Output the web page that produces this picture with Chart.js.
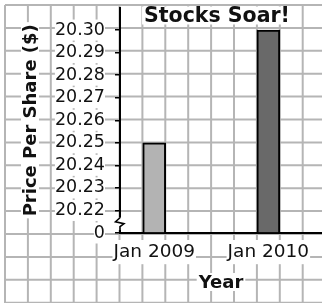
<!DOCTYPE html>
<html>
<head>
<meta charset="utf-8">
<script src="https://cdn.jsdelivr.net/npm/chart.js@4/dist/chart.umd.min.js"></script>
<style>
  body { margin: 0; background: #fff; }
  #wrap { width: 322px; height: 303px; }
</style>
</head>
<body>
<div id="wrap"><canvas id="chart" width="322" height="303"></canvas></div>
<script>
// data
const years = ['Jan 2009', 'Jan 2010'];
const prices = [20.25, 20.30];
const barColors = ['#b3b3b3', '#696969'];
// broken value axis: 0, then 20.22 .. 20.30
const priceTicks = [0, 20.22, 20.23, 20.24, 20.25, 20.26, 20.27, 20.28, 20.29, 20.30];

// position of a price on the broken axis (one step per tick)
const axisPos = v => priceTicks.findIndex(t => Math.abs(t - v) < 1e-6);

const FONT = 'DejaVu Sans, Verdana, sans-serif';

// graph-paper background + titles with white boxes + axis break
const paper = {
  id: 'paper',
  beforeDraw(chart) {
    const ctx = chart.ctx;
    ctx.save();
    ctx.fillStyle = '#fff';
    ctx.fillRect(0, 0, chart.width, chart.height);
    ctx.strokeStyle = '#b5b5b5';
    ctx.lineWidth = 2;
    const step = 22.9;
    for (let k = 0; k < 14; k++) {
      const p = 5 + k * step;
      ctx.beginPath();
      ctx.moveTo(p, 5); ctx.lineTo(p, chart.height);
      ctx.stroke();
      ctx.beginPath();
      ctx.moveTo(5, p); ctx.lineTo(chart.width, p);
      ctx.stroke();
    }
    ctx.restore();
  },
  afterDraw(chart) {
    const ctx = chart.ctx;
    const area = chart.chartArea;
    const boxText = (txt, x, y, font, rot) => {
      ctx.save();
      ctx.translate(x, y);
      if (rot) ctx.rotate(rot);
      ctx.font = font;
      const w = ctx.measureText(txt).width;
      ctx.fillStyle = '#fff';
      ctx.fillRect(-w / 2 - 2, -9, w + 4, 18);
      ctx.fillStyle = '#111';
      ctx.textAlign = 'center';
      ctx.textBaseline = 'middle';
      ctx.fillText(txt, 0, 1);
      ctx.restore();
    };
    boxText('Stocks Soar!', 217, 15.5, 'bold 20.5px ' + FONT);
    boxText('Price Per Share ($)', 30, (area.top + area.bottom) / 2, 'bold 18px ' + FONT, -Math.PI / 2);
    boxText('Year', (area.left + area.right) / 2, 282, 'bold 18px ' + FONT);

    // axis break between 0 and 20.22
    const y = chart.scales.y;
    const x0 = area.left;
    const yTop = y.getPixelForValue(0.5) - 4;
    const yBot = y.getPixelForValue(0) - 3;
    ctx.save();
    ctx.fillStyle = '#fff';
    ctx.fillRect(x0 - 2, yTop, 4, yBot - yTop);
    ctx.strokeStyle = '#000';
    ctx.lineWidth = 1.6;
    ctx.beginPath();
    ctx.moveTo(x0, yTop);
    ctx.lineTo(x0 - 4.5, yTop + 4);
    ctx.lineTo(x0 + 4, yTop + 6);
    ctx.lineTo(x0, yTop + 9);
    ctx.lineTo(x0, yBot + 2);
    ctx.stroke();
    ctx.restore();
  }
};

const noPad = s => { s.paddingTop = 0; s.paddingBottom = 0; s.paddingLeft = 0; s.paddingRight = 0; };

new Chart(document.getElementById('chart'), {
  type: 'bar',
  data: {
    datasets: [{
      data: prices.map((p, i) => ({ x: i, y: axisPos(p) })),
      backgroundColor: barColors,
      borderColor: '#000',
      borderWidth: 2,
      barThickness: 23
    }]
  },
  options: {
    responsive: false,
    animation: false,
    layout: { padding: { left: 53, top: 7.5, right: 0, bottom: 0 } },
    plugins: { legend: { display: false }, tooltip: { enabled: false } },
    scales: {
      x: {
        type: 'linear',
        offset: false,
        min: -0.3,
        max: 1.47,
        afterBuildTicks: s => { s.ticks = years.map((_, i) => ({ value: i })); },
        afterFit: s => { s.height = 70; noPad(s); },
        grid: { display: false, drawTicks: false },
        border: { display: true, color: '#000', width: 2 },
        ticks: {
          autoSkip: false,
          callback: v => years[v],
          font: { family: FONT, size: 18.5 },
          color: '#111',
          padding: 8,
          maxRotation: 0,
          showLabelBackdrop: true,
          backdropColor: '#fff',
          backdropPadding: 1
        }
      },
      y: {
        min: 0,
        max: 10,
        afterBuildTicks: s => { s.ticks = priceTicks.map((_, i) => ({ value: i })); },
        afterFit: s => { s.width = 67; noPad(s); },
        grid: { drawOnChartArea: false, drawTicks: true, tickLength: 5, color: '#000', lineWidth: 1.5 },
        border: { display: true, color: '#000', width: 2 },
        ticks: {
          autoSkip: false,
          callback: v => (v === 0 ? '0' : priceTicks[v].toFixed(2)),
          font: { family: FONT, size: 17.5 },
          color: '#111',
          padding: 10,
          showLabelBackdrop: true,
          backdropColor: '#fff',
          backdropPadding: 0
        }
      }
    }
  },
  plugins: [paper]
});
</script>
</body>
</html>
